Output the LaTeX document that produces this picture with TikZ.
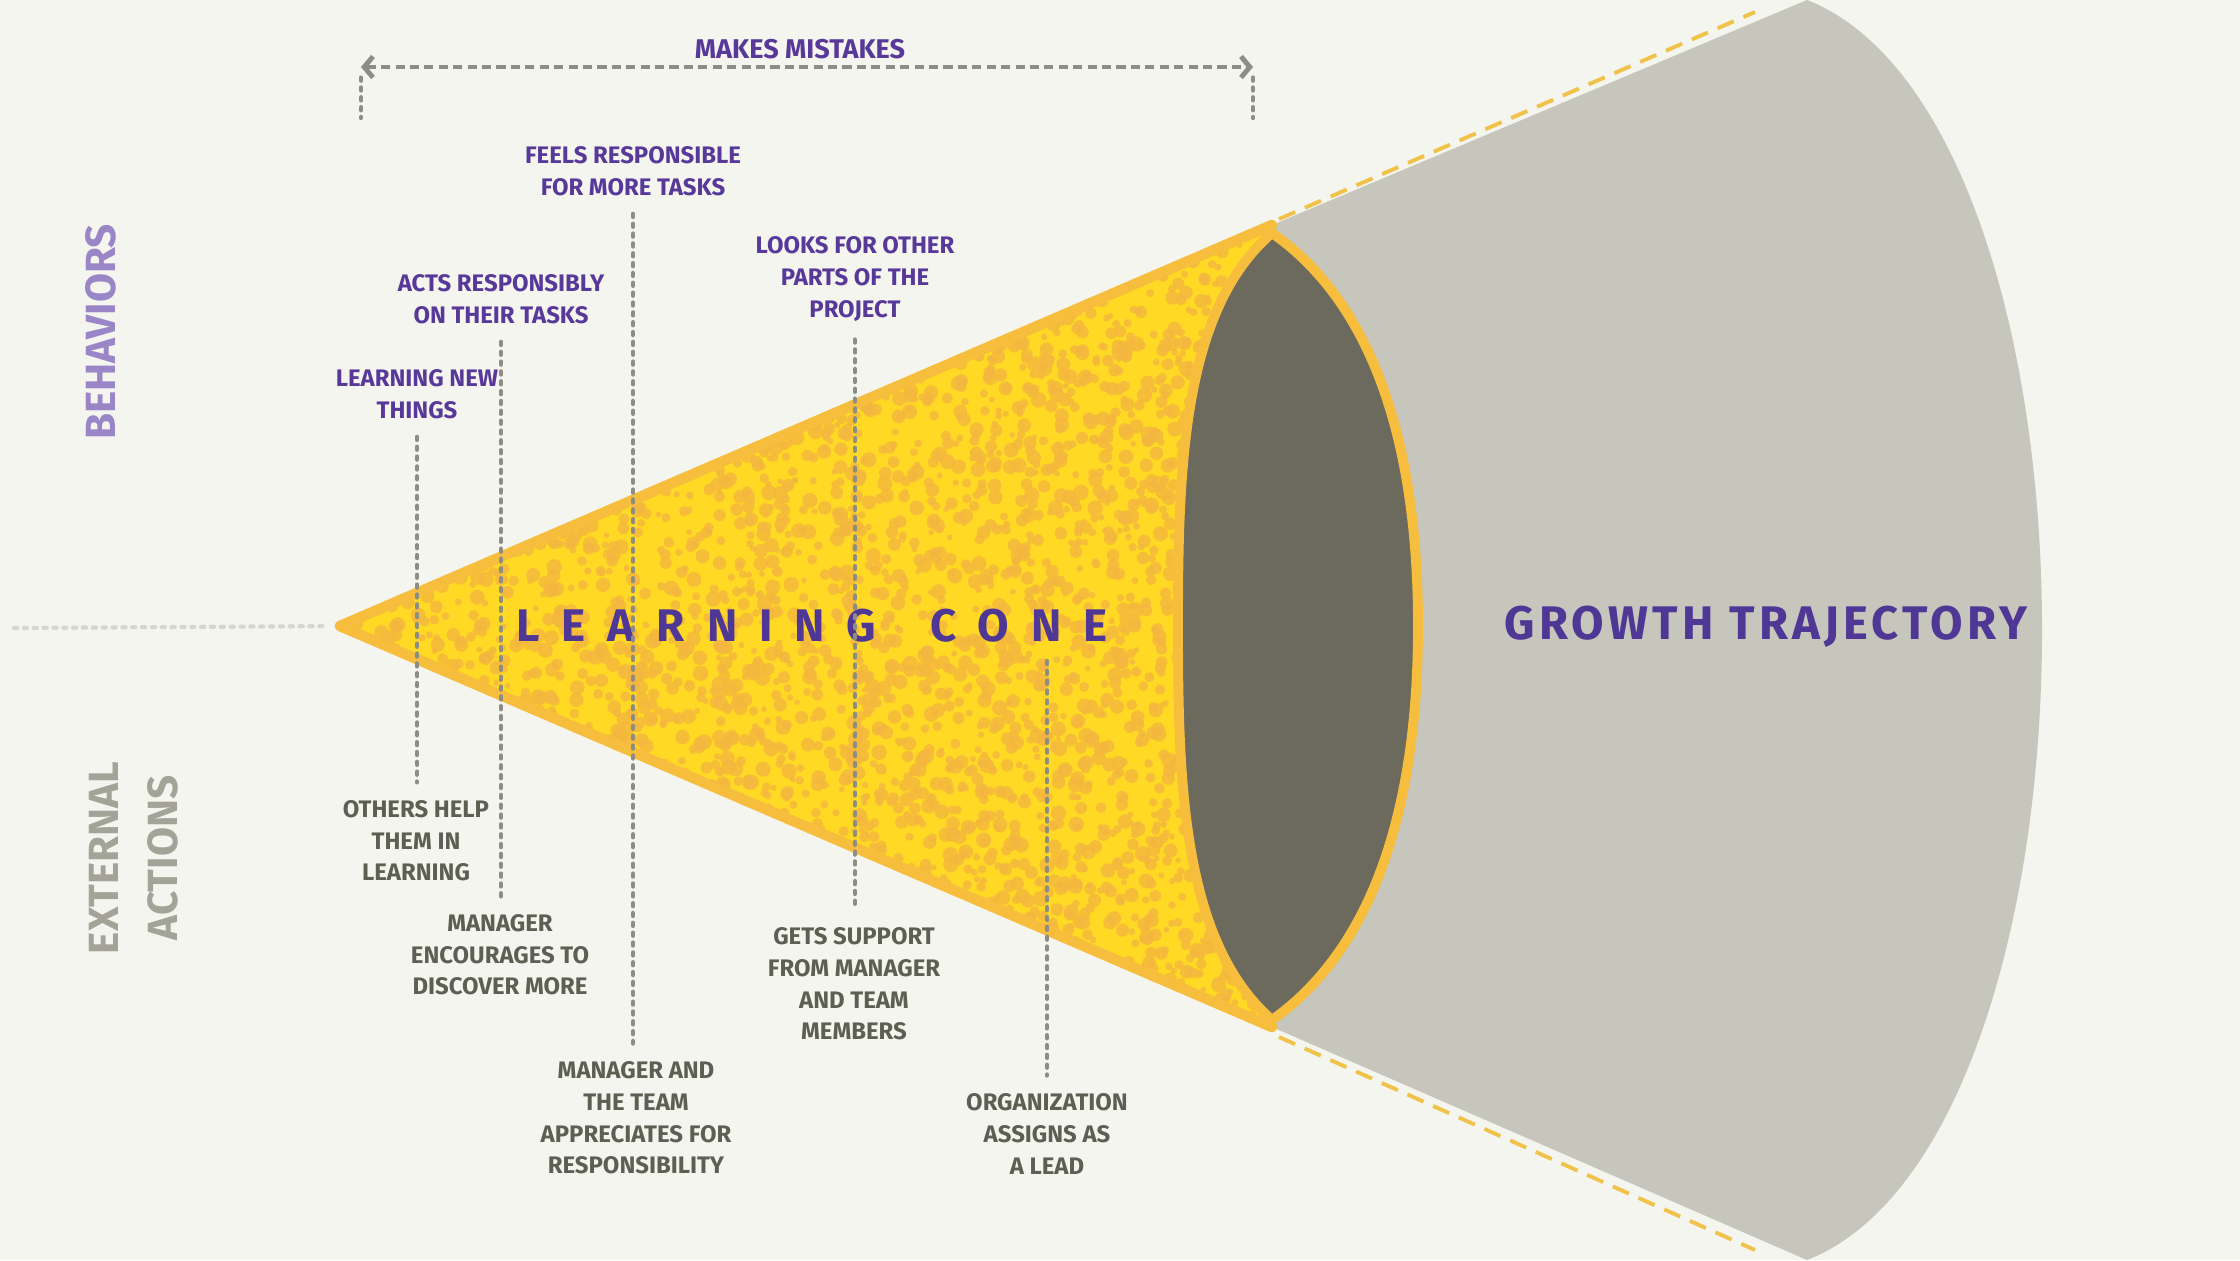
\documentclass[tikz,border=0pt]{standalone}
\usepackage{fontspec}
\setmainfont{Fira Sans}
\usepackage{tikz}
\usetikzlibrary{
    backgrounds,
    arrows.meta
    }

\definecolor{paper}{HTML}{F4F5EF}
\definecolor{behavpurple}{HTML}{58399A}
\definecolor{titlepurple}{HTML}{4F3795}
\definecolor{lilac}{HTML}{9A86C6}
\definecolor{stone}{HTML}{A3A397}
\definecolor{inkgray}{HTML}{5E5E53}
\definecolor{leadergray}{HTML}{8D8D84}
\definecolor{conefill}{HTML}{FFD923}
\definecolor{coneorange}{HTML}{F7BE3E}
\definecolor{speckorange}{HTML}{F3B640}
\definecolor{rimdark}{HTML}{6B6A5C}
\definecolor{trajgray}{HTML}{C6C6BD}
\definecolor{trailyellow}{HTML}{F1C24A}
\definecolor{faintgray}{HTML}{D6D6CE}

\begin{document}
\begin{tikzpicture}[x=0.01cm, y=-0.01cm]
% chktex-file 1
\tikzset{behav/.style =
        {
            text=behavpurple,
            font=\bfseries\fontsize{6.8}{9}\selectfont,
            align=center,
            inner sep=2pt
        }
}

\tikzset{extact/.style =
        {
            behav,
            text=inkgray
        }
}

\tikzset{sidehead/.style =
        {
            font=\bfseries\fontsize{12}{16.8}\selectfont,
            align=center,
            rotate=90
        }
}

\tikzset{title/.style =
        {
            text=titlepurple,
            font=\bfseries\fontsize{13}{15}\selectfont,
            inner sep=2pt
        }
}

\tikzset{leader/.style =
        {
            line width=1.2pt,
            leadergray,
            line cap=round,
            dash pattern=on 0.9pt off 1.9pt,
            shorten <=3pt,
            shorten >=3pt
        }
}

\tikzset{span/.style =
        {
            line width=1.4pt,
            leadergray,
            dash pattern=on 2.6pt off 1.5pt,
            <->,
            >={Straight Barb[length=2.5pt, width=6pt]}
        }
}

\tikzset{trail/.style =
        {
            line width=1.1pt,
            trailyellow,
            dash pattern=on 5pt off 3pt
        }
}

\tikzset{coneline/.style =
        {
            line width=3pt,
            draw=coneorange,
            line join=round,
            line cap=round
        }
}

\tikzset{speck/.style = { fill=speckorange, opacity=0.75 } }

\tikzset{rim/.style =
        {
            fill=rimdark,
            draw=coneorange,
            line width=2.8pt,
            line join=round
        }
}

		\useasboundingbox (0,0) rectangle (2240,1260);
		\begin{scope}[on background layer]
			\fill[paper] (0,0) rectangle (2240,1260);
		\end{scope}

		\coordinate (tip) at (340,626);
		\coordinate (rim-top) at (1272,225);
		\coordinate (rim-bot) at (1272,1027);

		% growth trajectory
		\fill[trajgray] (rim-top) -- (1807,0) .. controls (1960,60) and (2042,340) .. (2042,630)
			.. controls (2042,920) and (1960,1200) .. (1807,1260) -- (rim-bot) -- cycle;
		\draw[trail] (1279,219) -- (1755,12);
		\draw[trail] (1279,1037) -- (1755,1250);

		% learning cone
		\fill[conefill] (tip) -- (rim-top) -- (rim-bot) -- cycle;
		\begin{scope}
			\clip (tip) -- (rim-top) -- (rim-bot) -- cycle;
			\pgfmathsetseed{7}
			\foreach \i in {1,...,4500}
			\fill[speck] ({340+932*rnd},{225+802*rnd}) circle [radius={0.8pt+1.4pt*rnd}];
		\end{scope}
		\draw[coneline] (rim-top) -- (tip) -- (rim-bot);
		\draw[rim] (1272,233) .. controls (1182,310) and (1178,470) .. (1178,626)
			.. controls (1178,782) and (1182,942) .. (1272,1020)
			.. controls (1385,940) and (1418,782) .. (1418,626)
			.. controls (1418,470) and (1385,312) .. (1272,233) -- cycle;

		\draw[leader, faintgray, shorten <=0pt, shorten >=4pt] (14,628) -- (tip);

		\node[sidehead, text=lilac] (behaviors) at (101,332) {BEHAVIORS};
		\node[sidehead, text=stone] (external) at (134,858) {EXTERNAL\\ACTIONS};

		\node[title, font=\bfseries\fontsize{13}{15}\selectfont\addfontfeatures{LetterSpace=48}] (conetitle) at (812,626) {LEARNING\hspace{6pt} CONE};
		\node[title, font=\bfseries\fontsize{13.4}{15}\selectfont\addfontfeatures{LetterSpace=9}] (growth) at (1766,627) {GROWTH TRAJECTORY};

		\node[behav, font=\bfseries\fontsize{7.7}{9}\selectfont] (mistakes) at (800,49) {MAKES MISTAKES};
		\coordinate (span-l) at (361,67);
		\coordinate (span-r) at (1253,67);
		\coordinate (foot-l) at (361,118);
		\coordinate (foot-r) at (1253,118);
		\draw[span] (span-l) -- (span-r);
		\draw[leader, shorten >=0pt] (span-l) -- (foot-l);
		\draw[leader, shorten >=0pt] (span-r) -- (foot-r);

		\foreach \name / \x / \y / \txt in
			{learn/417/394/{LEARNING NEW\\THINGS},
				acts/501/299/{ACTS RESPONSIBLY\\ON THEIR TASKS},
				feels/633/171/{FEELS RESPONSIBLE\\FOR MORE TASKS},
				looks/855/279/{LOOKS FOR OTHER\\PARTS OF THE\\PROJECT}}
		\node[behav] (\name) at (\x,\y) {\txt};

		\foreach \name / \x / \y / \txt in
			{helped/416/841/{OTHERS HELP\\THEM IN\\LEARNING},
				encourage/500/955/{MANAGER\\ENCOURAGES TO\\DISCOVER MORE},
				appreciate/636/1118/{MANAGER AND\\THE TEAM\\APPRECIATES FOR\\RESPONSIBILITY},
				support/854/984/{GETS SUPPORT\\FROM MANAGER\\AND TEAM\\MEMBERS},
				lead/1047/1134/{ORGANIZATION\\ASSIGNS AS\\A LEAD}}
		\node[extact] (\name) at (\x,\y) {\txt};

		\foreach \a / \b in {learn/helped, acts/encourage, feels/appreciate, looks/support}
		\draw[leader] (\a) -- (\a |- \b.north);
		\draw[leader] (lead.north |- conetitle.south) -- (lead);

	\end{tikzpicture}
\end{document}
